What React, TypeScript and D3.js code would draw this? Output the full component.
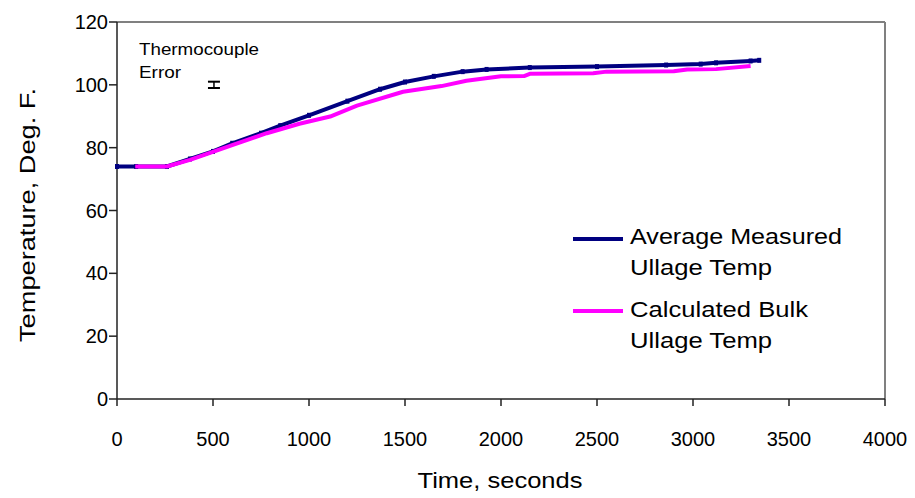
import React from "react";
import * as d3 from "d3";

const xTicks = [0, 500, 1000, 1500, 2000, 2500, 3000, 3500, 4000];
const yTicks = [0, 20, 40, 60, 80, 100, 120];

const measuredTime = [0, 100, 260, 380, 500, 600, 750, 850, 1000, 1200, 1370, 1500, 1650, 1800, 1925, 2150, 2500, 2860, 3040, 3120, 3300, 3345];
const measuredTemp = [74, 74, 74, 76.4, 78.8, 81.4, 84.6, 87.0, 90.3, 94.8, 98.6, 100.9, 102.7, 104.2, 104.9, 105.5, 105.8, 106.3, 106.6, 107.0, 107.6, 107.8];

const calcTime = [95, 260, 380, 600, 780, 950, 1110, 1250, 1490, 1690, 1820, 2000, 2120, 2150, 2480, 2550, 2900, 2970, 3120, 3300];
const calcTemp = [74, 74, 76.1, 80.8, 84.6, 87.6, 89.9, 93.4, 97.8, 99.6, 101.3, 102.7, 102.8, 103.5, 103.7, 104.2, 104.3, 104.9, 105.0, 106.0];

const errorBar = { time: 505, temp: 100, err: 1 };

const seriesNames = ["Average Measured", "Ullage Temp", "Calculated Bulk", "Ullage Temp"];

export default function App() {
  const W = 915, H = 498;
  const x = d3.scaleLinear().domain([0, 4000]).range([117, 885]);
  const y = d3.scaleLinear().domain([0, 120]).range([399, 22]);
  const line = d3.line<[number, number]>().x(d => x(d[0])).y(d => y(d[1]));
  const measured = measuredTime.map((t, i) => [t, measuredTemp[i]] as [number, number]);
  const calc = calcTime.map((t, i) => [t, calcTemp[i]] as [number, number]);
  const font = "'Liberation Sans', Arial, sans-serif";
  const ex = x(errorBar.time);
  return (
    <svg width={W} height={H} style={{ position: "absolute", left: 0, top: 0, background: "#fff" }} fontFamily={font}>
      {/* plot border */}
      <line x1={x(0)} x2={x(4000)} y1={y(120)} y2={y(120)} stroke="#808080" strokeWidth={2} />
      <line x1={x(4000)} x2={x(4000)} y1={y(120)} y2={y(0)} stroke="#808080" strokeWidth={2} />
      {/* axes */}
      <line x1={x(0)} x2={x(0)} y1={y(120)} y2={y(0)} stroke="#222" strokeWidth={1.5} />
      <line x1={x(0)} x2={x(4000)} y1={y(0)} y2={y(0)} stroke="#222" strokeWidth={1.5} />
      {yTicks.map(v => (
        <g key={"y" + v}>
          <line x1={x(0) - 8} x2={x(0)} y1={y(v)} y2={y(v)} stroke="#222" strokeWidth={1.5} />
          <text x={108} y={y(v) + 7} textAnchor="end" fontSize={20}>{v}</text>
        </g>
      ))}
      {xTicks.map(v => (
        <g key={"x" + v}>
          <line x1={x(v)} x2={x(v)} y1={y(0)} y2={y(0) + 7} stroke="#222" strokeWidth={1.5} />
          <text x={x(v)} y={446} textAnchor="middle" fontSize={20}>{v}</text>
        </g>
      ))}
      <text x={500} y={488} textAnchor="middle" fontSize={21.5} textLength={165} lengthAdjust="spacingAndGlyphs">Time, seconds</text>
      <text transform={`translate(35,215) rotate(-90)`} textAnchor="middle" fontSize={22} textLength={254} lengthAdjust="spacingAndGlyphs">Temperature, Deg. F.</text>

      {/* series */}
      <path d={line(measured) || ""} fill="none" stroke="#000080" strokeWidth={4} strokeLinejoin="round" />
      {measured.map((d, i) => (
        <rect key={"m" + i} x={x(d[0]) - 2} y={y(d[1]) - 2.5} width={4} height={5} fill="#000080" />
      ))}
      <path d={line(calc) || ""} fill="none" stroke="#FF00FF" strokeWidth={4} strokeLinejoin="round" />

      {/* thermocouple error */}
      <text x={139} y={55} fontSize={16} textLength={120} lengthAdjust="spacingAndGlyphs">Thermocouple</text>
      <text x={139} y={78} fontSize={16} textLength={42} lengthAdjust="spacingAndGlyphs">Error</text>
      <line x1={ex} x2={ex} y1={y(errorBar.temp + errorBar.err)} y2={y(errorBar.temp - errorBar.err)} stroke="#000" strokeWidth={1.5} />
      <line x1={ex - 6} x2={ex + 6} y1={y(errorBar.temp + errorBar.err)} y2={y(errorBar.temp + errorBar.err)} stroke="#000" strokeWidth={2} />
      <line x1={ex - 6} x2={ex + 6} y1={y(errorBar.temp - errorBar.err)} y2={y(errorBar.temp - errorBar.err)} stroke="#000" strokeWidth={2} />

      {/* legend */}
      <line x1={573} x2={623} y1={239} y2={239} stroke="#000080" strokeWidth={4} />
      <text x={630} y={244} fontSize={22} textLength={212} lengthAdjust="spacingAndGlyphs">{seriesNames[0]}</text>
      <text x={630} y={275} fontSize={22} textLength={142} lengthAdjust="spacingAndGlyphs">{seriesNames[1]}</text>
      <line x1={573} x2={623} y1={311} y2={311} stroke="#FF00FF" strokeWidth={4} />
      <text x={630} y={317} fontSize={22} textLength={178} lengthAdjust="spacingAndGlyphs">{seriesNames[2]}</text>
      <text x={630} y={348} fontSize={22} textLength={142} lengthAdjust="spacingAndGlyphs">{seriesNames[3]}</text>
    </svg>
  );
}
